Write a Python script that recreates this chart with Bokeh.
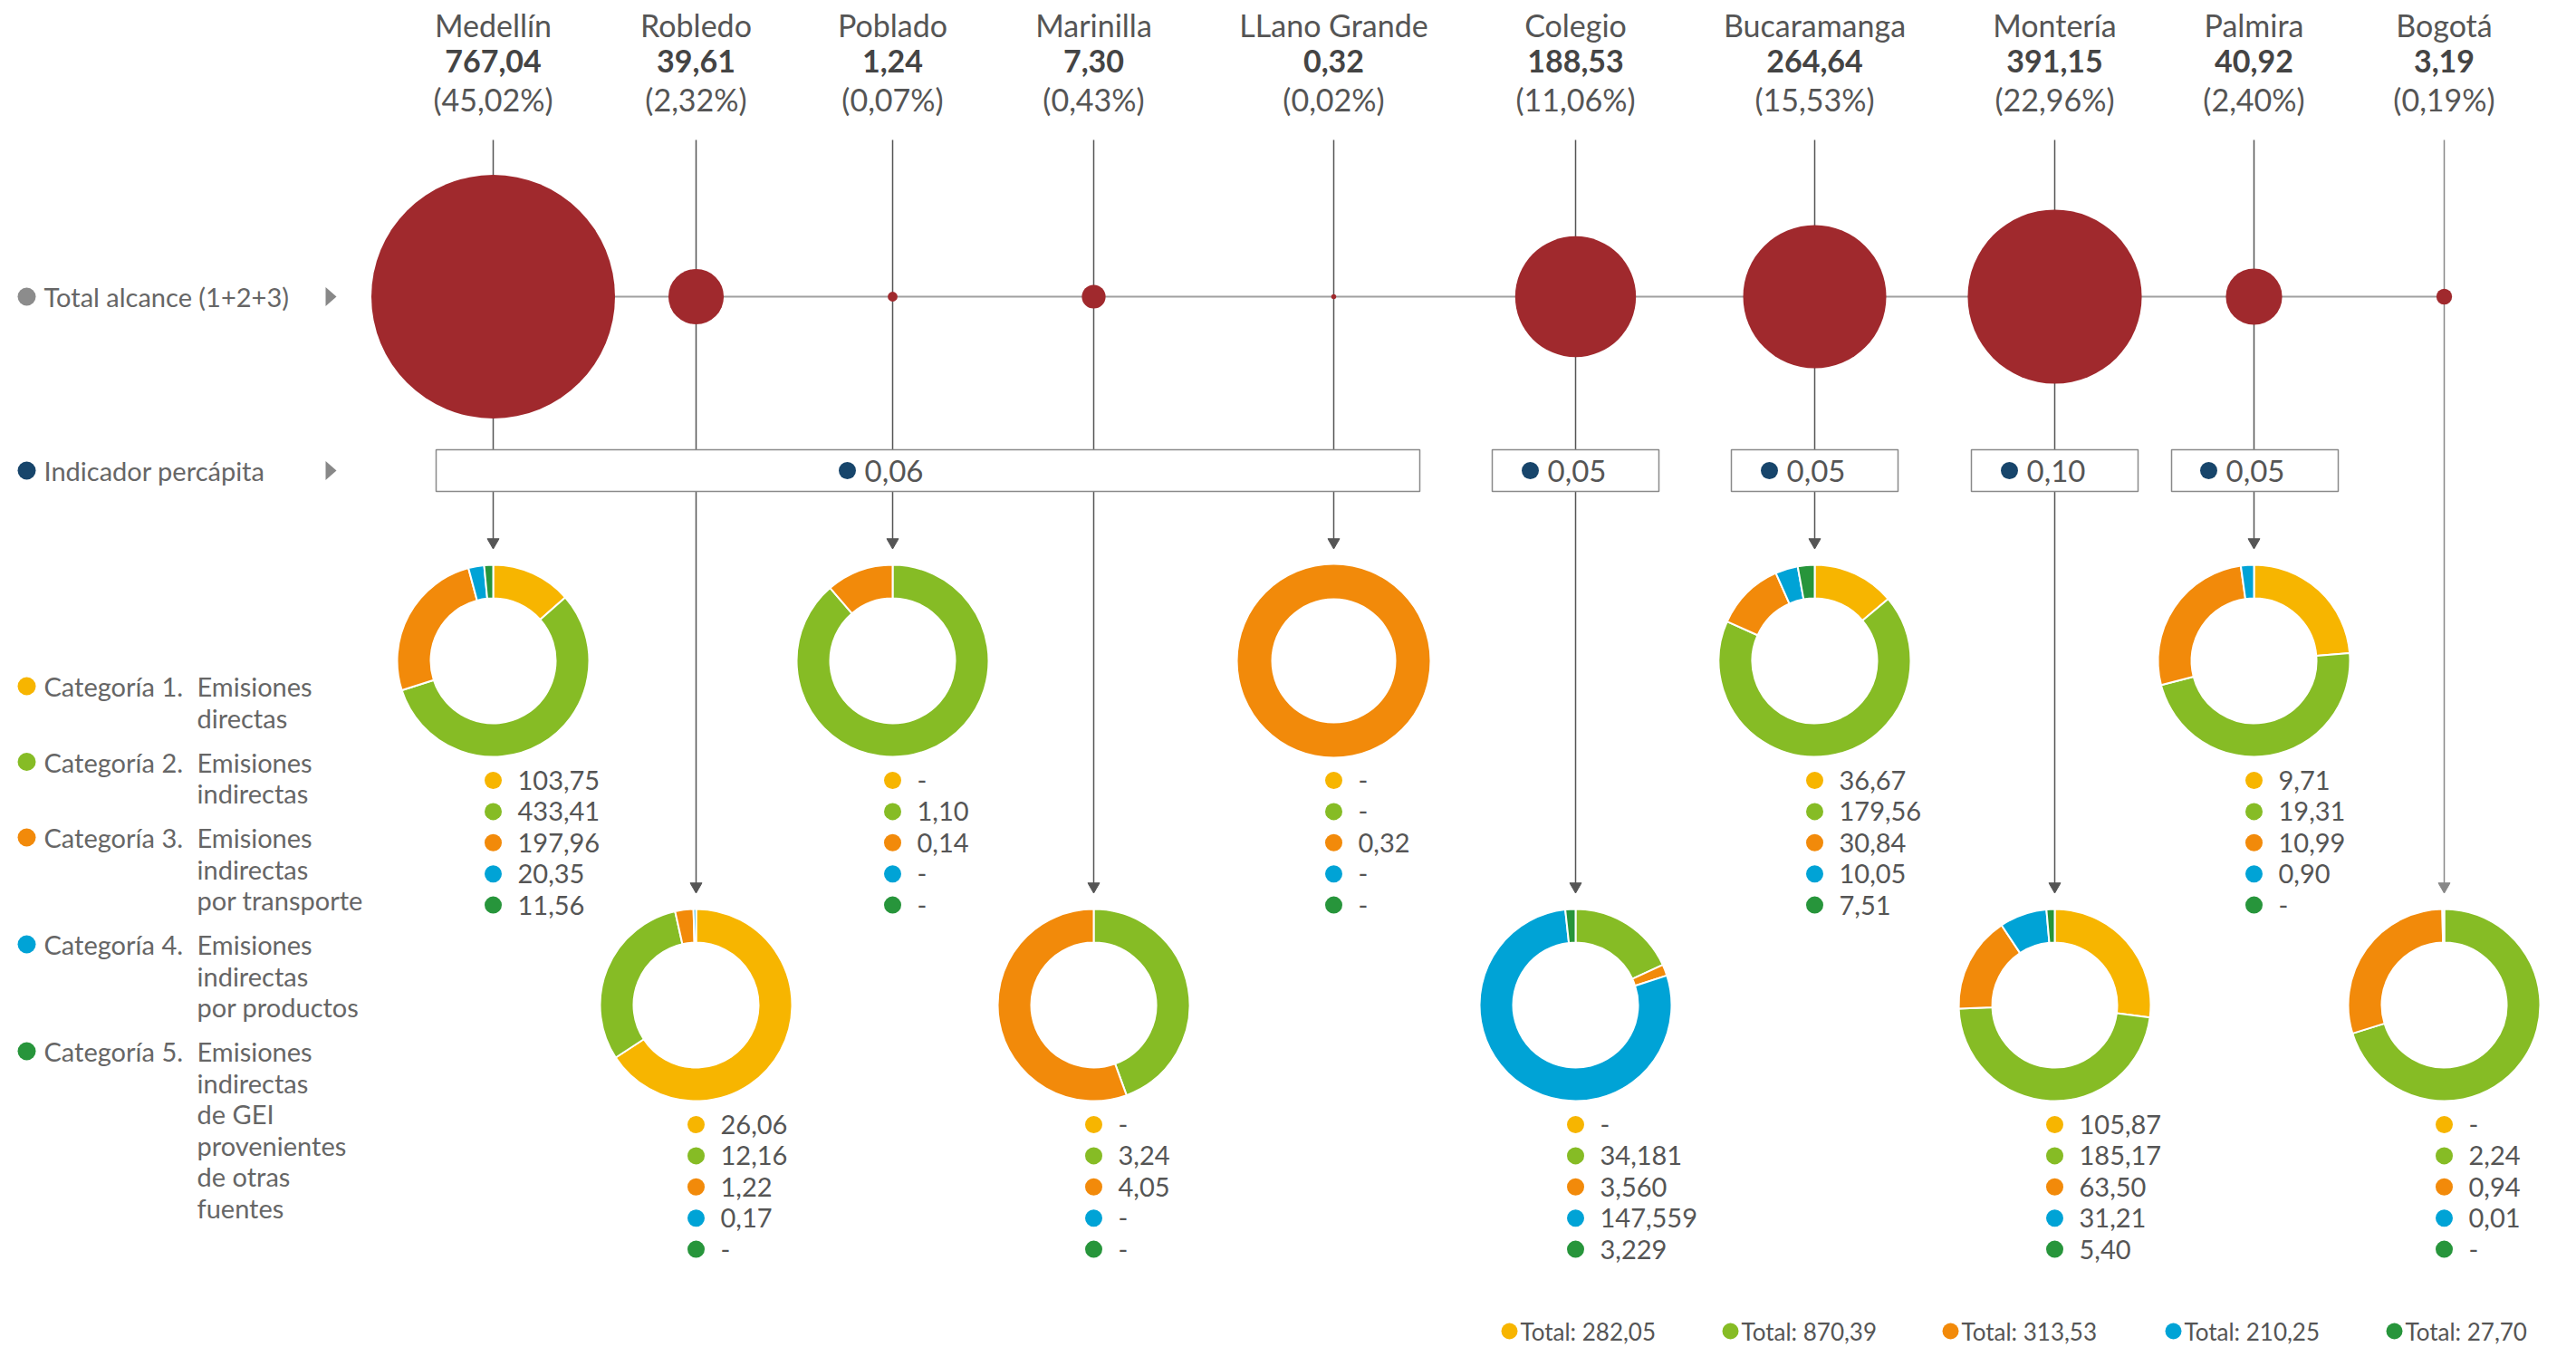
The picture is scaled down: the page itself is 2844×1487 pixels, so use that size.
import numpy as np
from bokeh.plotting import figure
from bokeh.models import Range1d
from bokeh.core.properties import value
from bokeh.embed import file_html
from bokeh.resources import INLINE

# ---------------- data ----------------
sites = ["Medellín", "Robledo", "Poblado", "Marinilla", "LLano Grande",
         "Colegio", "Bucaramanga", "Montería", "Palmira", "Bogotá"]
totals = [767.04, 39.61, 1.24, 7.30, 0.32, 188.53, 264.64, 391.15, 40.92, 3.19]
total_labels = ["767,04", "39,61", "1,24", "7,30", "0,32",
                "188,53", "264,64", "391,15", "40,92", "3,19"]
share_labels = ["(45,02%)", "(2,32%)", "(0,07%)", "(0,43%)", "(0,02%)",
                "(11,06%)", "(15,53%)", "(22,96%)", "(2,40%)", "(0,19%)"]

cat1 = [103.75, 26.06, 0, 0, 0, 0, 36.67, 105.87, 9.71, 0]
cat2 = [433.41, 12.16, 1.10, 3.24, 0, 34.181, 179.56, 185.17, 19.31, 2.24]
cat3 = [197.96, 1.22, 0.14, 4.05, 0.32, 3.560, 30.84, 63.50, 10.99, 0.94]
cat4 = [20.35, 0.17, 0, 0, 0, 147.559, 10.05, 31.21, 0.90, 0.01]
cat5 = [11.56, 0, 0, 0, 0, 3.229, 7.51, 5.40, 0, 0]

cat1_labels = ["103,75", "26,06", "-", "-", "-", "-", "36,67", "105,87", "9,71", "-"]
cat2_labels = ["433,41", "12,16", "1,10", "3,24", "-", "34,181", "179,56", "185,17", "19,31", "2,24"]
cat3_labels = ["197,96", "1,22", "0,14", "4,05", "0,32", "3,560", "30,84", "63,50", "10,99", "0,94"]
cat4_labels = ["20,35", "0,17", "-", "-", "-", "147,559", "10,05", "31,21", "0,90", "0,01"]
cat5_labels = ["11,56", "-", "-", "-", "-", "3,229", "7,51", "5,40", "-", "-"]

percap_labels = ["0,06", "0,05", "0,05", "0,10", "0,05"]

category_names = ["Categoría 1.", "Categoría 2.", "Categoría 3.", "Categoría 4.", "Categoría 5."]
category_desc = [["Emisiones", "directas"],
                 ["Emisiones", "indirectas"],
                 ["Emisiones", "indirectas", "por transporte"],
                 ["Emisiones", "indirectas", "por productos"],
                 ["Emisiones", "indirectas", "de GEI", "provenientes", "de otras", "fuentes"]]
category_total_labels = ["Total: 282,05", "Total: 870,39", "Total: 313,53",
                         "Total: 210,25", "Total: 27,70"]
row_labels = ["Total alcance (1+2+3)", "Indicador percápita"]

# ---------------- styling / layout ----------------
CAT_COLORS = ["#F7B500", "#86BC25", "#F28A0A", "#00A3D6", "#27953B"]
RED = "#A0292D"
NAVY = "#17456B"
FONT = value("Lato")
W, H = 2840, 1484


def Y(py):
    return H - py


COL_X = [544, 768, 985, 1207, 1472, 1739, 2003, 2268, 2488, 2698]
ROW_TOTAL = 327
ROW_PC = 519
BOX_TOP, BOX_BOT = 496, 542
MAXR = 134.5
DON_UP, DON_LO = 729, 1109
R_OUT, R_IN = 106, 69

p = figure(width=W, height=H, output_backend="svg", toolbar_location=None,
           x_range=Range1d(0, W), y_range=Range1d(0, H),
           min_border=0)
p.axis.visible = False
p.grid.visible = False
p.outline_line_color = None
p.background_fill_color = "white"

up = [i % 2 == 0 for i in range(len(sites))]
last = len(sites) - 1

# vertical connector lines
vx, vy0, vy1, vc = [], [], [], []
for i, x in enumerate(COL_X):
    vx.append(x)
    vy0.append(Y(154))
    if up[i] and i != last:
        vy1.append(Y(596)); vc.append("#555555")
    else:
        vy1.append(Y(976)); vc.append("#888888" if i == last else "#555555")
p.segment(x0=vx, y0=vy0, x1=vx, y1=vy1, line_color=vc, line_width=1.5)

# arrow heads
ay = [Y(598) if (up[i] and i != last) else Y(978) for i in range(len(sites))]
p.scatter(x=vx, y=ay, marker="inverted_triangle", size=13, fill_color=vc,
          line_color=vc)

# horizontal line for totals
p.segment(x0=[COL_X[0]], y0=[Y(ROW_TOTAL)], x1=[COL_X[-1]], y1=[Y(ROW_TOTAL)],
          line_color="#a0a0a0", line_width=2)

# total circles (area proportional)
radii = [MAXR * np.sqrt(t / max(totals)) for t in totals]
p.circle(x=COL_X, y=[Y(ROW_TOTAL)] * len(sites), radius=radii,
         fill_color=RED, line_color=None)

# per-capita boxes
boxes = [(481, 1567, COL_X[2]), (1647, 1831, COL_X[5]), (1911, 2095, COL_X[6]),
         (2176, 2360, COL_X[7]), (2397, 2581, COL_X[8])]
p.quad(left=[b[0] for b in boxes], right=[b[1] for b in boxes],
       top=[Y(BOX_TOP)] * 5, bottom=[Y(BOX_BOT)] * 5,
       fill_color="white", line_color="#8a8a8a", line_width=1.5)
p.scatter(x=[b[2] - 50 for b in boxes], y=[Y(ROW_PC)] * 5, size=19,
          fill_color=NAVY, line_color=None)
p.text(x=[b[2] - 31 for b in boxes], y=[Y(ROW_PC)] * 5, text=percap_labels,
       text_font=FONT, text_font_size="33px", text_color="#555555",
       text_align="left", text_baseline="middle")

# headers
p.text(x=COL_X, y=[Y(27)] * 10, text=sites, text_font=FONT, text_font_size="34px",
       text_color="#555555", text_align="center", text_baseline="middle")
p.text(x=COL_X, y=[Y(67)] * 10, text=total_labels, text_font=FONT,
       text_font_size="34px", text_font_style="bold", text_color="#444444",
       text_align="center", text_baseline="middle")
p.text(x=COL_X, y=[Y(109)] * 10, text=share_labels, text_font=FONT,
       text_font_size="34px", text_color="#555555", text_align="center",
       text_baseline="middle")

# left row labels with small pointer triangles
p.scatter(x=[29, 29], y=[Y(ROW_TOTAL), Y(ROW_PC)], size=20,
          fill_color=["#8c8c8c", NAVY], line_color=None)
p.text(x=[48, 48], y=[Y(ROW_TOTAL), Y(ROW_PC)], text=row_labels, text_font=FONT,
       text_font_size="29px", text_color="#666666", text_align="left",
       text_baseline="middle")
tri_xs, tri_ys = [], []
for r in (ROW_TOTAL, ROW_PC):
    tri_xs.append([359, 371, 359])
    tri_ys.append([Y(r - 10.5), Y(r), Y(r + 10.5)])
p.patches(xs=tri_xs, ys=tri_ys, fill_color="#888888", line_color=None)

# left category legend
ly = 757
cy, ctext, dx, dy, dtext = [], [], [], [], []
for k, (nm, desc) in enumerate(zip(category_names, category_desc)):
    cy.append(Y(ly)); ctext.append(nm)
    for j, line in enumerate(desc):
        dx.append(217); dy.append(Y(ly + j * 34.5)); dtext.append(line)
    ly += len(desc) * 34.5 + 14.5
p.scatter(x=[29] * 5, y=cy, size=20, fill_color=CAT_COLORS, line_color=None)
p.text(x=[48] * 5, y=cy, text=ctext, text_font=FONT, text_font_size="29px",
       text_color="#666666", text_align="left", text_baseline="middle")
p.text(x=dx, y=dy, text=dtext, text_font=FONT, text_font_size="29px",
       text_color="#666666", text_align="left", text_baseline="middle")

# donuts
cats = [cat1, cat2, cat3, cat4, cat5]
cat_labels = [cat1_labels, cat2_labels, cat3_labels, cat4_labels, cat5_labels]
wx, wy, ws, we, wc = [], [], [], [], []
ring_x, ring_y, ring_c = [], [], []
lx, lyy, ltxt, ldx, ldy, ldc = [], [], [], [], [], []
for i, x in enumerate(COL_X):
    cyp = DON_UP if up[i] else DON_LO
    vals = [c[i] for c in cats]
    tot = sum(vals)
    nz = [k for k, v in enumerate(vals) if v > 0]
    if len(nz) == 1:
        ring_x.append(x); ring_y.append(Y(cyp)); ring_c.append(CAT_COLORS[nz[0]])
    else:
        cum = 0.0
        for k, v in enumerate(vals):
            if v <= 0:
                continue
            a0 = np.pi / 2 - 2 * np.pi * cum / tot
            cum += v
            a1 = np.pi / 2 - 2 * np.pi * cum / tot
            wx.append(x); wy.append(Y(cyp)); ws.append(a0); we.append(a1)
            wc.append(CAT_COLORS[k])
    base = 861 if up[i] else 1241
    for k in range(5):
        yy = base + k * 34.4
        ldx.append(x); ldy.append(Y(yy)); ldc.append(CAT_COLORS[k])
        lx.append(x + 27); lyy.append(Y(yy)); ltxt.append(cat_labels[k][i])

p.annular_wedge(x=wx, y=wy, inner_radius=R_IN, outer_radius=R_OUT,
                start_angle=ws, end_angle=we, direction="clock",
                fill_color=wc, line_color="white", line_width=2)
p.annulus(x=ring_x, y=ring_y, inner_radius=R_IN, outer_radius=R_OUT,
          fill_color=ring_c, line_color=None)
p.scatter(x=ldx, y=ldy, size=19, fill_color=ldc, line_color=None)
p.text(x=lx, y=lyy, text=ltxt, text_font=FONT, text_font_size="29px",
       text_color="#555555", text_align="left", text_baseline="middle")

# bottom totals legend
tx = [1666, 1910, 2153, 2399, 2643]
p.scatter(x=tx, y=[Y(1469)] * 5, size=18, fill_color=CAT_COLORS, line_color=None)
p.text(x=[t + 12 for t in tx], y=[Y(1469)] * 5, text=category_total_labels,
       text_font=FONT, text_font_size="26px", text_color="#555555",
       text_align="left", text_baseline="middle")

open("out.html", "w").write(file_html(p, INLINE))
